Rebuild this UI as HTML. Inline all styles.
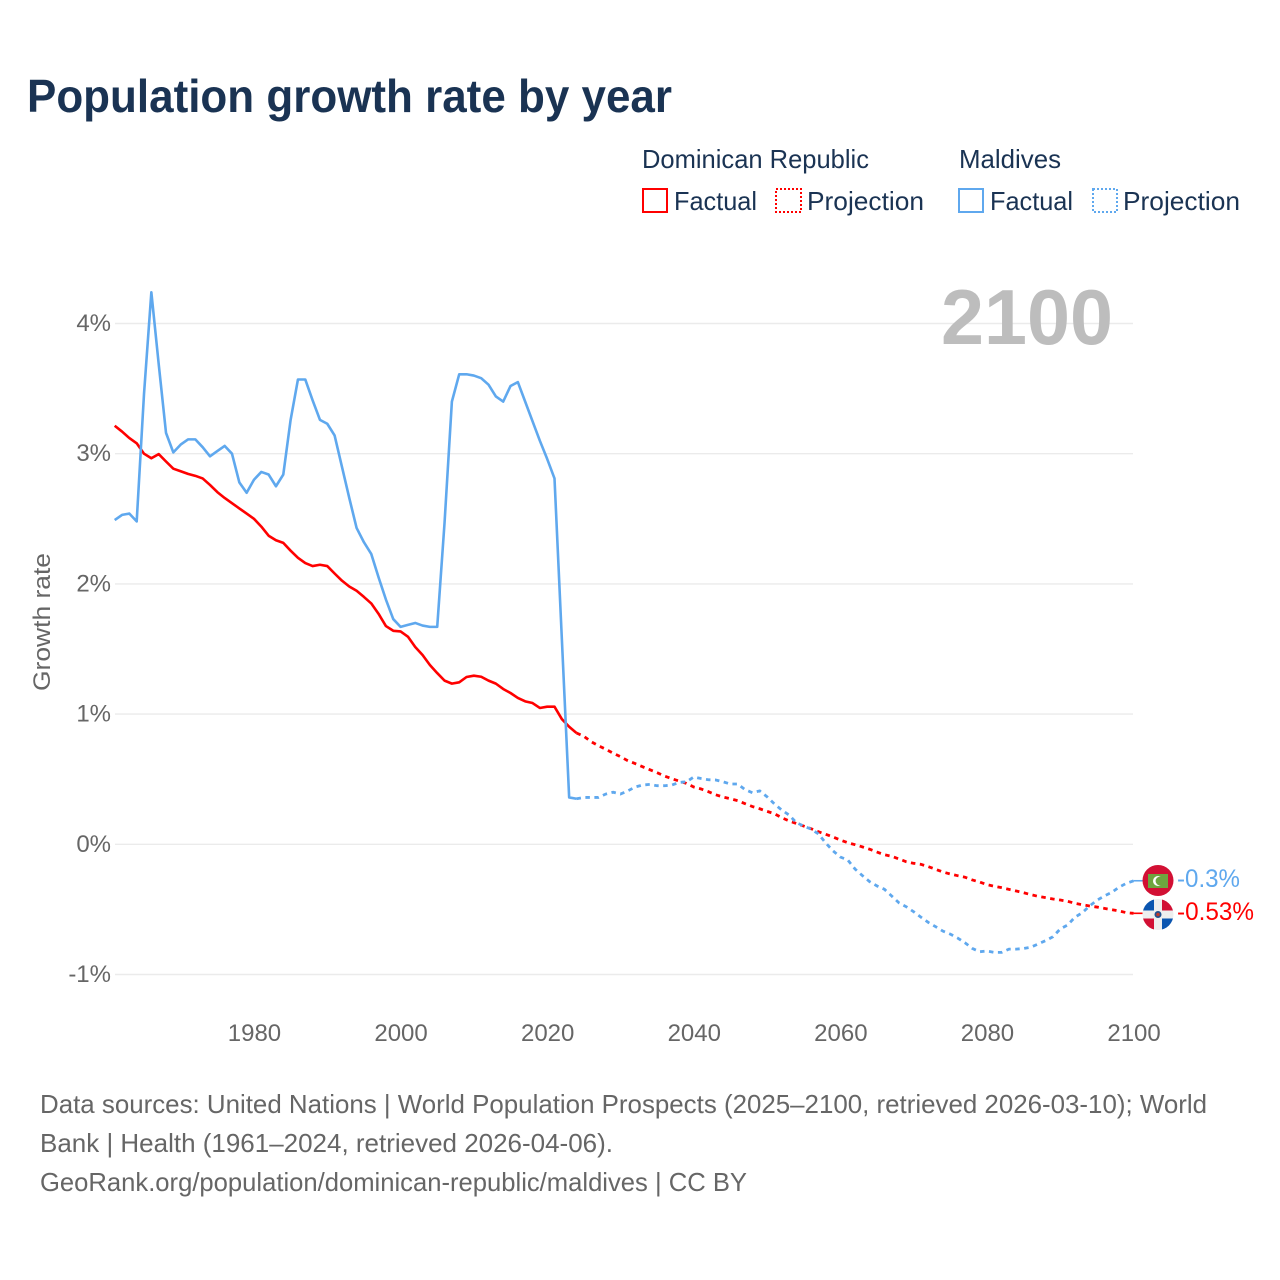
<!DOCTYPE html>
<html lang="en">
<head>
<meta charset="utf-8">
<title>Population growth rate by year</title>
<style>
html,body{margin:0;padding:0;background:#fff;}
svg{display:block;font-family:"Liberation Sans",sans-serif;}
</style>
</head>
<body>
<svg id="chart" xmlns="http://www.w3.org/2000/svg" width="1280" height="1280" viewBox="0 0 1280 1280">
  <rect width="1280" height="1280" fill="#fff"/>
  <text x="27" y="112" font-size="46" font-weight="bold" fill="#1a3353" textLength="645" lengthAdjust="spacingAndGlyphs">Population growth rate by year</text>

  <g font-size="26" fill="#1a3353">
    <text x="642" y="168" textLength="227" lengthAdjust="spacingAndGlyphs">Dominican Republic</text>
    <text x="959" y="168" textLength="102" lengthAdjust="spacingAndGlyphs">Maldives</text>
    <rect x="643" y="189" width="24" height="23" fill="none" stroke="#ff0000" stroke-width="2"/>
    <text x="674" y="210" textLength="83" lengthAdjust="spacingAndGlyphs">Factual</text>
    <rect x="776" y="189" width="25" height="23" fill="none" stroke="#ff0000" stroke-width="2" stroke-dasharray="2 2"/>
    <text x="807" y="210" textLength="117" lengthAdjust="spacingAndGlyphs">Projection</text>
    <rect x="959" y="189" width="24" height="23" fill="none" stroke="#5fa8ee" stroke-width="2"/>
    <text x="990" y="210" textLength="83" lengthAdjust="spacingAndGlyphs">Factual</text>
    <rect x="1093" y="189" width="24" height="23" fill="none" stroke="#5fa8ee" stroke-width="2" stroke-dasharray="2 2"/>
    <text x="1123" y="210" textLength="117" lengthAdjust="spacingAndGlyphs">Projection</text>
  </g>

  <g id="grid"></g>
  <g id="yticks" font-size="24" fill="#666" text-anchor="end"></g>
  <g id="xticks" font-size="24" fill="#666" text-anchor="middle"></g>
  <text transform="translate(50,622) rotate(-90)" font-size="24" fill="#666" text-anchor="middle" textLength="138" lengthAdjust="spacingAndGlyphs">Growth rate</text>
  <text x="941" y="344" font-size="78" font-weight="bold" fill="#bdbdbd" textLength="172" lengthAdjust="spacingAndGlyphs">2100</text>
  <g id="series"></g>

  <g>
    <circle cx="1158" cy="880.5" r="15.5" fill="#d21034"/>
    <rect x="1148" y="874" width="20" height="14" fill="#6ea53f"/>
    <circle cx="1158" cy="881" r="5" fill="#fff"/>
    <circle cx="1160" cy="881" r="4.4" fill="#6ea53f"/>
  </g>
  <g>
    <clipPath id="drclip"><circle cx="1158" cy="914.5" r="15.5"/></clipPath>
    <g clip-path="url(#drclip)">
      <rect x="1142" y="898" width="32" height="33" fill="#eeeeee"/>
      <rect x="1142" y="898" width="12" height="12.5" fill="#0b55b0"/>
      <rect x="1162" y="898" width="12" height="12.5" fill="#d21034"/>
      <rect x="1142" y="918.5" width="12" height="12.5" fill="#d21034"/>
      <rect x="1162" y="918.5" width="12" height="12.5" fill="#0b55b0"/>
    </g>
    <circle cx="1158" cy="914.5" r="3.5" fill="#20508f"/>
    <circle cx="1158" cy="914.5" r="1.8" fill="#c0392b"/>
  </g>
  <text x="1177" y="887" font-size="25" fill="#5fa8ee" textLength="63" lengthAdjust="spacingAndGlyphs">-0.3%</text>
  <text x="1177" y="920" font-size="25" fill="#ff0000" textLength="77" lengthAdjust="spacingAndGlyphs">-0.53%</text>

  <g font-size="26" fill="#666">
    <text x="40" y="1113" textLength="1167" lengthAdjust="spacingAndGlyphs">Data sources: United Nations | World Population Prospects (2025–2100, retrieved 2026-03-10); World</text>
    <text x="40" y="1152" textLength="573" lengthAdjust="spacingAndGlyphs">Bank | Health (1961–2024, retrieved 2026-04-06).</text>
    <text x="40" y="1191" textLength="707" lengthAdjust="spacingAndGlyphs">GeoRank.org/population/dominican-republic/maldives | CC BY</text>
  </g>
</svg>
<script>
const factualYears = [1961,1962,1963,1964,1965,1966,1967,1968,1969,1970,1971,1972,1973,1974,1975,1976,1977,1978,1979,1980,1981,1982,1983,1984,1985,1986,1987,1988,1989,1990,1991,1992,1993,1994,1995,1996,1997,1998,1999,2000,2001,2002,2003,2004,2005,2006,2007,2008,2009,2010,2011,2012,2013,2014,2015,2016,2017,2018,2019,2020,2021,2022,2023,2024];
const projectionYears = [2025,2026,2027,2028,2029,2030,2031,2032,2033,2034,2035,2036,2037,2038,2039,2040,2041,2042,2043,2044,2045,2046,2047,2048,2049,2050,2051,2052,2053,2054,2055,2056,2057,2058,2059,2060,2061,2062,2063,2064,2065,2066,2067,2068,2069,2070,2071,2072,2073,2074,2075,2076,2077,2078,2079,2080,2081,2082,2083,2084,2085,2086,2087,2088,2089,2090,2091,2092,2093,2094,2095,2096,2097,2098,2099,2100];
const dominicanFactual = [3.215,3.17,3.12,3.08,3.0,2.965,2.997,2.94,2.885,2.865,2.845,2.83,2.81,2.76,2.705,2.66,2.62,2.58,2.54,2.5,2.44,2.37,2.335,2.315,2.255,2.2,2.16,2.137,2.147,2.137,2.08,2.025,1.98,1.947,1.9,1.85,1.77,1.676,1.64,1.635,1.595,1.515,1.454,1.377,1.315,1.257,1.234,1.244,1.285,1.295,1.287,1.257,1.234,1.193,1.162,1.124,1.098,1.085,1.047,1.057,1.057,0.962,0.903,0.855];
const dominicanProjection = [0.83,0.788,0.757,0.73,0.70,0.673,0.642,0.62,0.596,0.573,0.55,0.524,0.504,0.486,0.468,0.44,0.425,0.404,0.38,0.363,0.35,0.335,0.312,0.29,0.273,0.253,0.235,0.204,0.18,0.16,0.14,0.12,0.097,0.077,0.056,0.033,0.012,-0.003,-0.02,-0.038,-0.06,-0.08,-0.092,-0.113,-0.134,-0.146,-0.154,-0.172,-0.192,-0.213,-0.228,-0.241,-0.253,-0.274,-0.29,-0.31,-0.323,-0.333,-0.346,-0.359,-0.372,-0.387,-0.40,-0.41,-0.42,-0.428,-0.438,-0.453,-0.464,-0.474,-0.482,-0.492,-0.502,-0.512,-0.525,-0.53];
const maldivesFactual = [2.49,2.53,2.54,2.48,3.46,4.24,3.69,3.16,3.01,3.07,3.11,3.11,3.05,2.98,3.02,3.06,3.0,2.78,2.7,2.8,2.86,2.84,2.75,2.84,3.26,3.57,3.57,3.41,3.26,3.23,3.14,2.9,2.66,2.43,2.32,2.23,2.05,1.88,1.73,1.67,1.685,1.70,1.68,1.67,1.67,2.47,3.40,3.61,3.61,3.60,3.58,3.53,3.44,3.40,3.52,3.55,3.40,3.25,3.10,2.96,2.81,1.58,0.36,0.35];
const maldivesProjection = [0.36,0.36,0.36,0.386,0.40,0.386,0.41,0.44,0.455,0.46,0.45,0.45,0.455,0.475,0.48,0.517,0.505,0.496,0.494,0.48,0.463,0.463,0.42,0.396,0.41,0.365,0.31,0.263,0.225,0.166,0.14,0.117,0.08,0.01,-0.05,-0.098,-0.12,-0.19,-0.24,-0.287,-0.32,-0.345,-0.397,-0.45,-0.48,-0.518,-0.56,-0.60,-0.633,-0.667,-0.69,-0.72,-0.756,-0.80,-0.825,-0.82,-0.83,-0.83,-0.805,-0.805,-0.80,-0.79,-0.765,-0.74,-0.71,-0.65,-0.62,-0.56,-0.525,-0.474,-0.43,-0.397,-0.37,-0.33,-0.30,-0.28];
const xTickYears = [1980,2000,2020,2040,2060,2080,2100];
const yTickValues = [4,3,2,1,0,-1];
const yTickLabels = ['4%','3%','2%','1%','0%','-1%'];

const NS = 'http://www.w3.org/2000/svg';
function xScale(year){ return 114.7 + (year - 1961) * 7.33; }
function yScale(v){ return 844.3 - v * 130.2; }
function linePath(years, values){
  return values.map(function(v, i){
    return (i ? 'L' : 'M') + xScale(years[i]).toFixed(2) + ' ' + yScale(v).toFixed(2);
  }).join('');
}

const grid = document.getElementById('grid');
const yticks = document.getElementById('yticks');
const xticks = document.getElementById('xticks');
const series = document.getElementById('series');

yTickValues.forEach(function(v, i){
  const line = document.createElementNS(NS, 'line');
  
  
  line.setAttribute('x1', 115);
  line.setAttribute('x2', 1133);
  line.setAttribute('y1', yScale(v));
  line.setAttribute('y2', yScale(v));
  line.setAttribute('stroke', '#ebebeb');
  line.setAttribute('stroke-width', '1.4');
  grid.appendChild(line);
  const t = document.createElementNS(NS, 'text');
  
  
  t.setAttribute('x', 111);
  t.setAttribute('y', yScale(v) + 7.5);
  t.textContent = yTickLabels[i];
  yticks.appendChild(t);
});

xTickYears.forEach(function(year){
  const t = document.createElementNS(NS, 'text');
  
  
  t.setAttribute('x', xScale(year) + 0.5);
  t.setAttribute('y', 1041);
  t.textContent = String(year);
  xticks.appendChild(t);
});

function drawSeries(name, color, factual, projection){
  const solid = document.createElementNS(NS, 'path');
  
  
  solid.setAttribute('d', linePath(factualYears, factual));
  solid.setAttribute('fill', 'none');
  solid.setAttribute('stroke', color);
  solid.setAttribute('stroke-width', '2.6');
  solid.setAttribute('stroke-linejoin', 'round');
  series.appendChild(solid);

  const projYears = [factualYears[factualYears.length - 1]].concat(projectionYears);
  const projVals = [factual[factual.length - 1]].concat(projection);
  const dashed = document.createElementNS(NS, 'path');
  
  
  dashed.setAttribute('d', linePath(projYears, projVals));
  dashed.setAttribute('fill', 'none');
  dashed.setAttribute('stroke', color);
  dashed.setAttribute('stroke-width', '2.8');
  dashed.setAttribute('stroke-dasharray', '4.5 4.5');
  series.appendChild(dashed);

  const last = projection[projection.length - 1];
  const connector = document.createElementNS(NS, 'line');
  
  
  connector.setAttribute('x1', xScale(2100));
  connector.setAttribute('x2', xScale(2100) + 9);
  connector.setAttribute('y1', yScale(last));
  connector.setAttribute('y2', yScale(last));
  connector.setAttribute('stroke', color);
  connector.setAttribute('stroke-width', '1.6');
  series.appendChild(connector);
}

drawSeries('dominican-republic', '#ff0000', dominicanFactual, dominicanProjection);
drawSeries('maldives', '#5fa8ee', maldivesFactual, maldivesProjection);
</script>
</body>
</html>
